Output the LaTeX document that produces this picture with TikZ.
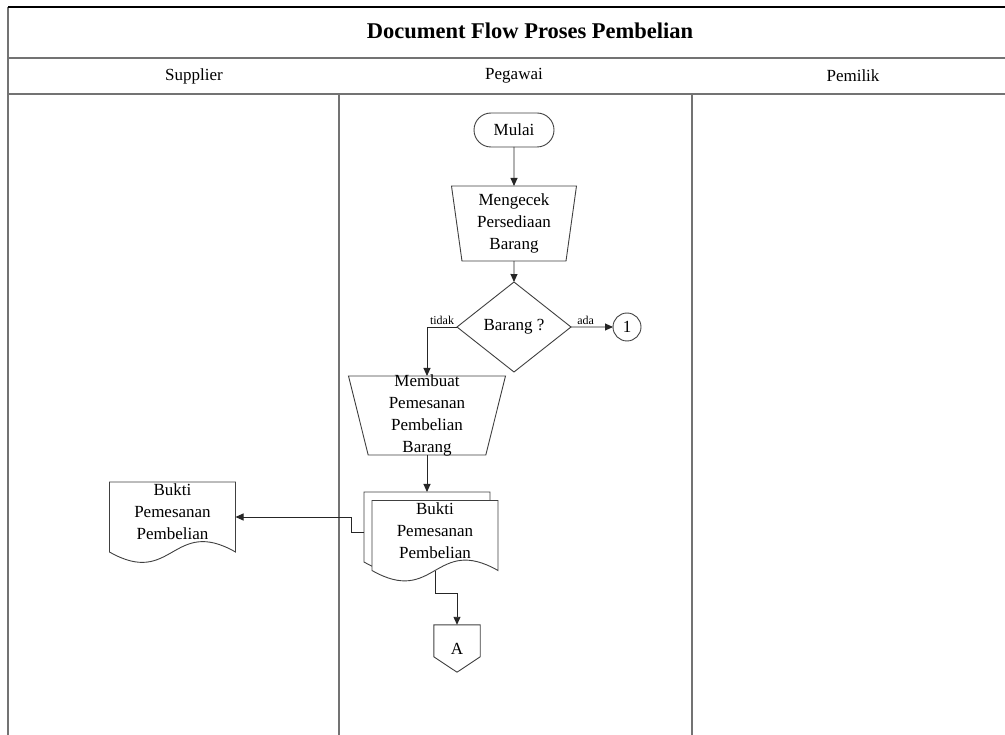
\documentclass[tikz,border=0pt]{standalone}
\usepackage{fontspec}
\setmainfont{Liberation Serif}
\usetikzlibrary{positioning,calc,shapes.geometric,shapes.misc,arrows.meta}

\tikzset{
  lane/.style={draw=black!55, line width=1.1pt},
  txt/.style={font=\fontsize{17}{22}\selectfont, align=center, inner sep=0pt},
  lbl/.style={font=\fontsize{12}{14}\selectfont, inner sep=2pt},
  shp/.style={txt, draw=black!75, line width=0.9pt, fill=white, outer sep=0pt},
  flow/.style={draw=black!85, line width=0.9pt, -{Triangle[length=8pt,width=7pt]}},
  manop/.style={shp, trapezium, shape border rotate=180, trapezium stretches body},
  docbox/.style={minimum width=126pt, minimum height=70pt, inner sep=0pt, outer sep=0pt},
  docline/.style={draw=black!75, line width=0.9pt, fill=white},
  docpath/.style={insert path={(#1.south west) -- (#1.north west) -- (#1.north east) -- (#1.south east)
    .. controls +(-63,-36) and +(63,36) .. (#1.south west) -- cycle}}
}

\begin{document}
\begin{tikzpicture}[x=1pt,y=-1pt]
\useasboundingbox (0,0) rectangle (1005,735);
\clip (0,0) rectangle (1005,735);

% pool and lanes
\draw[lane] (8,760) -- (8,7);
\draw[draw=black, line width=1.1pt] (8,7) -- (1052,7);
\draw[lane] (8,58) -- (1052,58);
\draw[lane] (8,94) -- (1052,94);
\draw[lane] (339,94) -- (339,760);
\draw[lane] (692,94) -- (692,760);
\node[font=\fontsize{22.5}{26}\selectfont\bfseries] (judul) at (530,31) {Document Flow Proses Pembelian};
\node[txt] (supplier) at (194,76) {Supplier};
\node[txt] (pegawai) at (514,76) {Pegawai};
\node[txt] (pemilik) at (853,76) {Pemilik};

% pegawai
\node[shp, rounded rectangle, minimum width=80pt, minimum height=34pt] (mulai) at (514,130) {Mulai};
\node[manop, trapezium angle=80, minimum width=125pt, minimum height=75pt, below=39pt of mulai] (cek) {Mengecek\\Persediaan\\Barang};
\node[shp, diamond, minimum width=114pt, minimum height=90pt, below=21pt of cek] (cekbrg) {Barang ?};
\node[shp, circle, minimum size=28pt] (sambung) at (627,327) {1};
\node[manop, trapezium angle=76, minimum width=157pt, text height=79pt, text depth=0pt,
  label={[txt]center:{Membuat\\Pemesanan\\Pembelian\\Barang}}] (buat) at (427,415.5) {};

\node[docbox] (pesanbelakang) at (427,527) {};
\path[docline, docpath=pesanbelakang];
\node[docbox] (pesan) at (435,535.5) {};
\path[docline, docpath=pesan];
\node[txt] (pesantxt) at (435,531) {Bukti\\Pemesanan\\Pembelian};

\node[txt, minimum width=46pt, minimum height=47pt] (hubA) at (457,648.5) {A};
\draw[draw=black!75, line width=0.9pt] (hubA.north west) -- (hubA.north east) -- ++(0,32)
  -- (hubA.south) -- ($(hubA.north west)+(0,32)$) -- cycle;

% supplier
\node[docbox] (supp) at (172.5,517) {};
\path[docline, docpath=supp];
\node[txt] (supptxt) at (172.5,512) {Bukti\\Pemesanan\\Pembelian};

% alur
\draw[flow] (mulai) -- (cek);
\draw[flow] (cek) -- (cekbrg);
\draw[flow] (cekbrg.west) -| node[pos=0.25, above, lbl]{tidak} (buat.north);
\draw[flow] (cekbrg.east) -- node[pos=0.35, above, lbl]{ada} (sambung);
\draw[flow] (buat.south) -- (pesanbelakang.north);
\draw[flow] ($(pesanbelakang.west)+(0,5)$) -- ++(-13,0) |- (supp.east);
\draw[flow] (pesan.south) -- ++(0,23) -| (hubA.north);
\end{tikzpicture}
\end{document}
